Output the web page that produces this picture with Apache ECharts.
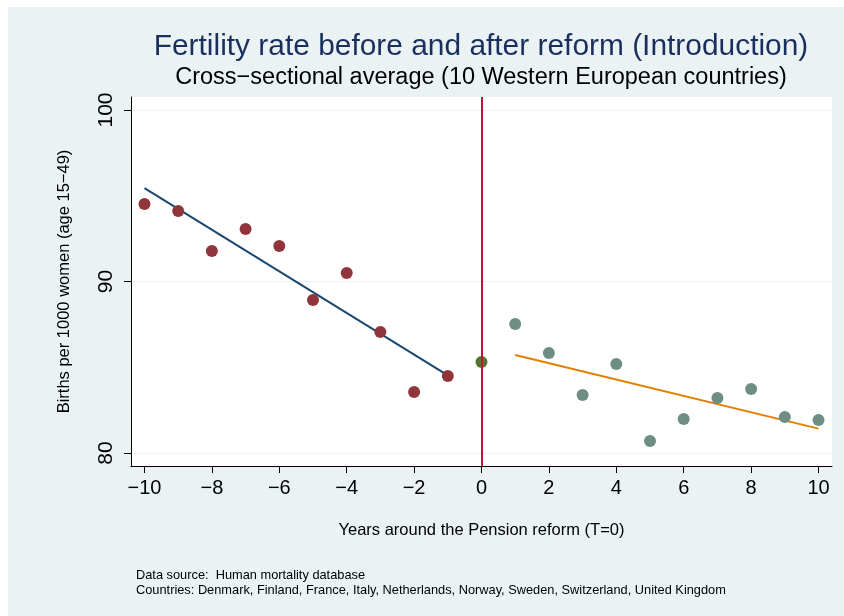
<!DOCTYPE html>
<html>
<head>
<meta charset="utf-8">
<script src="https://cdn.jsdelivr.net/npm/echarts@6/dist/echarts.min.js"></script>
<style>
  html, body { margin: 0; padding: 0; background: #ffffff; }
  #chart { position: absolute; left: 8px; top: 7px; width: 836px; height: 609px; }
</style>
</head>
<body>
<div id="chart"></div>
<script>
// years around the reform
var preYears = [-10, -9, -8, -7, -6, -5, -4, -3, -2, -1];
var preRate = [94.52, 94.11, 91.78, 93.06, 92.07, 88.92, 90.50, 87.06, 83.56, 84.49];
var reformYear = [0];
var reformRate = [85.31];
var postYears = [1, 2, 3, 4, 5, 6, 7, 8, 9, 10];
var postRate = [87.52, 85.83, 83.38, 85.19, 80.70, 81.98, 83.21, 83.73, 82.10, 81.92];

// fitted lines (end points)
var preFitYears = [-10, -1];
var preFitRate = [95.45, 84.52];
var postFitYears = [1, 10];
var postFitRate = [85.71, 81.42];

var xTicks = [-10, -8, -6, -4, -2, 0, 2, 4, 6, 8, 10];
var yTicks = [80, 90, 100];

function pairs(xs, ys) {
    return xs.map(function (x, i) { return [x, ys[i]]; });
}

var font = 'Liberation Sans, Arial, sans-serif';
var chart = echarts.init(document.getElementById('chart'));

var option = {
    backgroundColor: '#eaf2f3',
    animation: false,
    textStyle: { fontFamily: font },
    title: [
        {
            text: 'Fertility rate before and after reform (Introduction)',
            left: 473, top: 25, textAlign: 'center', padding: 0,
            textStyle: { fontSize: 29.9, fontWeight: 'normal', color: '#1a2f5e', fontFamily: font }
        },
        {
            text: 'Cross\u2212sectional average (10 Western European countries)',
            left: 473, top: 59, textAlign: 'center', padding: 0,
            textStyle: { fontSize: 23.5, fontWeight: 'normal', color: '#000000', fontFamily: font }
        }
    ],
    grid: {
        left: 123, right: 12, top: 90, bottom: 150,
        show: true, backgroundColor: '#ffffff', borderWidth: 0
    },
    xAxis: {
        type: 'value',
        min: -10.4, max: 10.4,
        name: 'Years around the Pension reform (T=0)',
        nameLocation: 'middle', nameGap: 56,
        nameTextStyle: { fontSize: 16.5, color: '#000' },
        axisLine: { onZero: false, lineStyle: { color: '#000', width: 1 } },
        axisTick: { customValues: xTicks, length: 7, lineStyle: { color: '#000' } },
        axisLabel: {
            customValues: xTicks, fontSize: 20, color: '#000', margin: 12,
            formatter: function (v) { return String(v).replace('-', '\u2212'); }
        },
        splitLine: { show: false }
    },
    yAxis: {
        type: 'value',
        min: 79.24, max: 100.76,
        name: 'Births per 1000 women (age 15\u221249)',
        nameLocation: 'middle', nameGap: 58,
        nameTextStyle: { fontSize: 16.5, color: '#000' },
        axisLine: { show: true, onZero: false, lineStyle: { color: '#000', width: 1 } },
        axisTick: { show: true, customValues: yTicks, length: 7, lineStyle: { color: '#000' } },
        axisLabel: { customValues: yTicks, fontSize: 21, color: '#000', rotate: 90, margin: 14 },
        splitLine: { show: true, lineStyle: { color: '#eaf2f3', width: 1 } }
    },
    series: [
        {
            name: 'pre fit', type: 'line', data: pairs(preFitYears, preFitRate),
            showSymbol: false, lineStyle: { color: '#1a476f', width: 2 }, z: 2,
            markLine: {
                silent: true, symbol: 'none', label: { show: false },
                lineStyle: { color: '#cb0e3d', width: 2, type: 'solid' },
                data: [{ xAxis: reformYear[0] }]
            }
        },
        {
            name: 'post fit', type: 'line', data: pairs(postFitYears, postFitRate),
            showSymbol: false, lineStyle: { color: '#e37e00', width: 2 }, z: 2
        },
        {
            name: 'before', type: 'scatter', data: pairs(preYears, preRate),
            symbolSize: 12, itemStyle: { color: '#90353b', opacity: 1 }, z: 3
        },
        {
            name: 'reform', type: 'scatter', data: pairs(reformYear, reformRate),
            symbolSize: 12, itemStyle: { color: '#55752f', opacity: 1 }, z: 4
        },
        {
            name: 'after', type: 'scatter', data: pairs(postYears, postRate),
            symbolSize: 12, itemStyle: { color: '#6e8e84', opacity: 1 }, z: 3
        }
    ],
    graphic: [
        {
            type: 'text', left: 128, top: 561,
            style: {
                text: 'Data source:  Human mortality database\nCountries: Denmark, Finland, France, Italy, Netherlands, Norway, Sweden, Switzerland, United Kingdom',
                font: '12.8px ' + font, fill: '#000', lineHeight: 15
            }
        }
    ]
};

chart.setOption(option);
</script>
</body>
</html>
